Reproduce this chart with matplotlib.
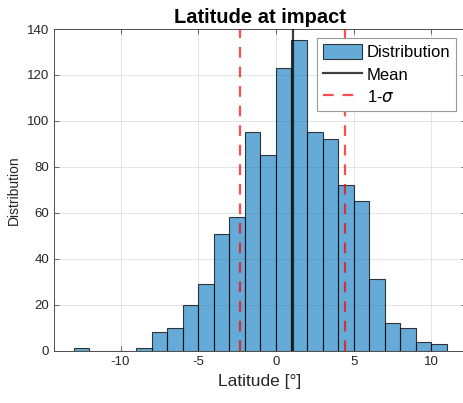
import matplotlib
matplotlib.use("Agg")
import matplotlib.pyplot as plt
from matplotlib.patches import Patch
from matplotlib.lines import Line2D

plt.rcParams['font.family'] = ['Liberation Sans', 'DejaVu Sans']
plt.rcParams['axes.unicode_minus'] = False

# Histogram of impact latitude (1° bins)
bin_edges = list(range(-13, 12))
counts = [1, 0, 0, 0, 1, 8, 10, 20, 29, 51, 58, 95, 85, 123, 135, 95, 92, 72, 65, 31, 12, 10, 4, 3]
lat_mean = 1.07
lat_sigma = 3.36

x_ticks = [-10, -5, 0, 5, 10]
y_ticks = [0, 20, 40, 60, 80, 100, 120, 140]

W, H = 464, 403
fig = plt.figure(figsize=(W / 100, H / 100), dpi=100)
ax = fig.add_axes([54.5 / W, (H - 350.7) / H, (465.5 - 54.5) / W, (350.7 - 29) / H])

bar_face = (0.0, 0.447, 0.741, 0.6)
bar_edge = (0.0, 0.0, 0.0, 0.75)
lefts = bin_edges[:-1]
widths = [b - a for a, b in zip(bin_edges[:-1], bin_edges[1:])]
ax.bar(lefts, counts, width=widths, align='edge', color=bar_face,
       edgecolor=bar_edge, linewidth=0.8, zorder=2)

mean_color = (0.0, 0.0, 0.0, 0.75)
sig_color = (1.0, 0.0, 0.0, 0.7)
ax.axvline(lat_mean, color=mean_color, lw=1.6, zorder=3)
for v in (lat_mean - lat_sigma, lat_mean + lat_sigma):
    ax.axvline(v, color=sig_color, lw=1.6, dashes=(4.8, 4.0), zorder=3)

ax.set_xlim(-14.25, 12.2)
ax.set_ylim(0, 140)
ax.set_xticks(x_ticks)
ax.set_yticks(y_ticks)

ax.grid(True, color='#e0e0e0', lw=0.6, zorder=0)
ax.set_axisbelow(True)
for s in ax.spines.values():
    s.set_color('0.3')
    s.set_linewidth(0.7)
ax.tick_params(direction='in', length=3.5, width=0.6, color='0.3',
               labelcolor='#262626', labelsize=9.5, top=True, right=True, pad=4)

ax.set_title('Latitude at impact', fontsize=14.5, fontweight='bold', color='black', pad=4)
ax.set_xlabel('Latitude [°]', fontsize=12.5, color='#262626', labelpad=4)
ax.set_ylabel('Distribution', fontsize=10, color='#262626', labelpad=4)

handles = [
    Patch(facecolor=bar_face, edgecolor=bar_edge, linewidth=0.8),
    Line2D([], [], color=mean_color, lw=1.6),
    Line2D([], [], color=sig_color, lw=1.6, dashes=(4.8, 4.0)),
]
leg = ax.legend(handles, ['Distribution', 'Mean', r'1-$\sigma$'],
                loc='upper right', bbox_to_anchor=(456 / W, (H - 38) / H),
                bbox_transform=fig.transFigure, fontsize=12, fancybox=False,
                framealpha=1, edgecolor='0.6', borderpad=0.35, labelspacing=0.38,
                handlelength=2.3, handleheight=1.0, handletextpad=0.3,
                borderaxespad=0)
leg.get_frame().set_linewidth(0.8)

fig.savefig('out.png', dpi=100)
